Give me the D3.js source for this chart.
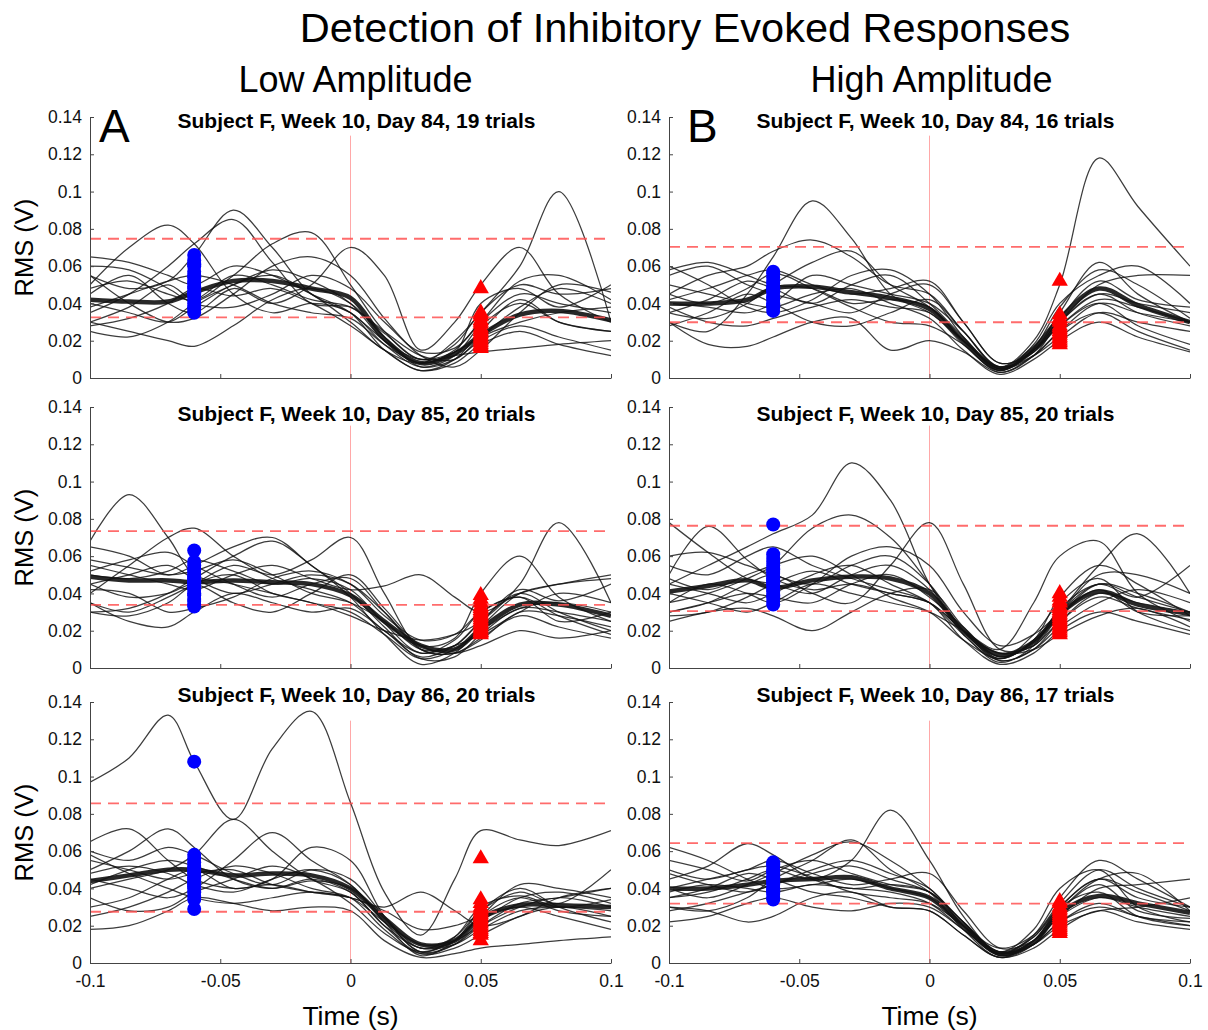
<!DOCTYPE html>
<html>
<head>
<meta charset="utf-8">
<script src="https://cdn.jsdelivr.net/npm/d3@7"></script>
<style>
  body { margin: 0; background: #fff; }
  text { font-family: "Liberation Sans", Arial, Helvetica, sans-serif; }
</style>
</head>
<body>
<svg id="chart" width="1208" height="1030"></svg>
<script>
const times = [-0.1, -0.085, -0.07, -0.06, -0.045, -0.03, -0.015, 0, 0.013, 0.027, 0.04, 0.05, 0.065, 0.08, 0.1];
const xTicks = [-0.1, -0.05, 0, 0.05, 0.1];
const yTicks = [0, 0.02, 0.04, 0.06, 0.08, 0.1, 0.12, 0.14];

// ---- all RMS values below are in mV ----

// Low amplitude, day 84
const meanA84 = [42, 41, 41, 46, 52, 52, 48, 43, 21, 8, 13, 23, 34, 36, 31];
const trialsA84 = [
  [55, 48, 52, 66, 90, 70, 45, 35, 20, 8, 15, 30, 45, 40, 35],
  [35, 45, 60, 72, 85, 62, 40, 38, 25, 12, 10, 22, 38, 48, 40],
  [50, 70, 82, 72, 45, 35, 40, 35, 18, 6, 12, 28, 40, 30, 25],
  [30, 38, 50, 42, 55, 72, 78, 50, 25, 10, 18, 35, 50, 45, 48],
  [45, 55, 40, 35, 48, 40, 50, 70, 55, 15, 30, 50, 70, 45, 30],
  [40, 35, 30, 38, 50, 55, 45, 30, 15, 8, 20, 35, 60, 100, 30],
  [30, 25, 20, 17, 28, 42, 48, 40, 22, 6, 10, 20, 28, 22, 15],
  [65, 62, 55, 50, 60, 55, 45, 35, 15, 4, 8, 18, 25, 18, 12],
  [25, 22, 30, 40, 50, 58, 52, 40, 20, 10, 14, 22, 30, 35, 38],
  [60, 58, 48, 40, 38, 45, 55, 48, 30, 14, 16, 30, 52, 55, 42],
  [38, 45, 52, 55, 50, 40, 35, 32, 18, 8, 12, 14, 16, 18, 20],
  [55, 40, 30, 32, 45, 60, 65, 55, 32, 12, 6, 15, 35, 50, 46],
  [28, 32, 40, 48, 44, 48, 40, 28, 15, 4, 10, 25, 42, 30, 25],
  [48, 52, 45, 42, 55, 50, 42, 38, 24, 10, 14, 40, 48, 38, 50]
];
const blueA84 = [66, 63, 61, 60, 57, 55, 54, 52, 51, 49, 48, 46, 45, 44, 42, 40, 38, 37, 35];
const redA84 = [48, 35, 34, 33, 31, 30, 29, 27, 26, 25, 24, 23, 22, 21, 20, 19, 18, 17, 16];
const threshA84 = [32.5, 74.7];

// High amplitude, day 84
const meanB84 = [40, 40, 42, 48, 49, 46, 43, 37, 20, 5, 16, 32, 48, 39, 30];
const trialsB84 = [
  [30, 25, 45, 65, 95, 75, 45, 35, 20, 5, 15, 30, 45, 40, 35],
  [45, 55, 60, 68, 74, 65, 50, 45, 25, 6, 14, 28, 42, 38, 30],
  [40, 38, 35, 40, 55, 50, 45, 40, 25, 6, 20, 50, 118, 92, 60],
  [35, 32, 40, 50, 62, 68, 50, 38, 20, 5, 12, 25, 40, 35, 30],
  [55, 60, 50, 45, 40, 35, 45, 50, 30, 8, 15, 35, 62, 45, 30],
  [60, 50, 38, 35, 42, 55, 58, 45, 22, 4, 18, 40, 55, 60, 40],
  [30, 18, 17, 22, 30, 32, 15, 20, 14, 3, 12, 25, 35, 25, 15],
  [28, 35, 45, 40, 30, 28, 35, 42, 25, 5, 15, 28, 40, 28, 18],
  [42, 48, 55, 58, 50, 45, 48, 52, 30, 8, 14, 30, 50, 55, 55],
  [50, 45, 40, 38, 45, 48, 40, 32, 15, 2, 10, 20, 30, 22, 14],
  [38, 30, 28, 32, 38, 42, 38, 35, 18, 4, 16, 38, 58, 50, 32],
  [58, 62, 55, 50, 48, 40, 42, 38, 20, 6, 12, 22, 35, 30, 25],
  [45, 40, 48, 56, 48, 38, 30, 28, 18, 3, 12, 30, 45, 35, 28],
  [35, 42, 52, 48, 40, 50, 55, 40, 22, 5, 14, 32, 52, 42, 38]
];
const blueB84 = [57, 56, 54, 52, 51, 49, 48, 47, 46, 44, 43, 42, 40, 39, 38, 36];
const redB84 = [52, 34, 32, 31, 30, 28, 27, 26, 25, 24, 23, 22, 21, 20, 19, 18];
const threshB84 = [29.9, 70.3];

// Low amplitude, day 85
const meanA85 = [49, 47, 47, 46, 47, 46, 45, 39, 25, 12, 10, 21, 34, 34, 28];
const trialsA85 = [
  [68, 93, 70, 50, 45, 40, 35, 30, 18, 5, 10, 20, 32, 35, 30],
  [40, 55, 70, 75, 60, 48, 42, 35, 20, 8, 12, 18, 30, 40, 35],
  [35, 30, 38, 45, 55, 50, 58, 70, 40, 10, 8, 15, 30, 28, 22],
  [30, 28, 35, 45, 50, 40, 35, 28, 20, 15, 18, 25, 45, 78, 35],
  [45, 50, 55, 48, 40, 45, 50, 45, 30, 12, 16, 40, 60, 38, 25],
  [55, 50, 45, 42, 50, 55, 48, 42, 44, 50, 38, 30, 40, 45, 50],
  [65, 60, 50, 55, 65, 70, 55, 40, 22, 5, 6, 18, 32, 30, 25],
  [30, 32, 40, 48, 60, 68, 55, 38, 18, 2, 8, 22, 40, 45, 48],
  [35, 25, 22, 30, 40, 35, 30, 32, 20, 6, 12, 25, 40, 30, 20],
  [52, 58, 62, 55, 45, 38, 45, 48, 30, 10, 8, 16, 28, 22, 16],
  [42, 40, 30, 32, 38, 48, 52, 45, 28, 15, 18, 30, 38, 28, 18],
  [58, 54, 50, 52, 58, 50, 40, 35, 25, 10, 12, 25, 42, 36, 45],
  [45, 38, 40, 45, 35, 30, 40, 50, 32, 12, 8, 12, 20, 16, 20],
  [50, 48, 52, 58, 52, 45, 48, 42, 24, 8, 15, 30, 38, 25, 30]
];
const blueA85 = [63, 57, 55, 53, 52, 50, 49, 48, 47, 46, 45, 44, 43, 42, 40, 39, 37, 36, 34, 33];
const redA85 = [39, 37, 35, 33, 32, 31, 30, 29, 28, 27, 26, 25, 24, 23, 22, 21, 20, 19, 19, 18];
const threshA85 = [33.9, 73.4];

// High amplitude, day 85
const meanB85 = [41, 44, 47, 43, 47, 49, 48, 40, 20, 7, 14, 29, 41, 34, 29];
const trialsB85 = [
  [45, 55, 65, 72, 82, 110, 90, 45, 20, 5, 15, 30, 45, 38, 30],
  [35, 40, 48, 55, 75, 82, 70, 45, 20, 8, 12, 25, 38, 32, 26],
  [30, 35, 45, 50, 40, 35, 55, 78, 45, 10, 12, 28, 45, 40, 30],
  [78, 62, 48, 45, 40, 50, 55, 42, 18, 4, 10, 25, 40, 35, 30],
  [50, 76, 58, 48, 42, 45, 40, 35, 20, 6, 14, 28, 42, 30, 28],
  [40, 35, 30, 35, 45, 40, 35, 30, 20, 10, 35, 60, 68, 40, 25],
  [30, 35, 40, 38, 35, 45, 50, 38, 22, 6, 14, 30, 55, 72, 40],
  [45, 40, 35, 40, 50, 55, 45, 35, 18, 3, 12, 32, 45, 38, 55],
  [25, 30, 32, 28, 20, 30, 40, 42, 22, 5, 18, 35, 48, 30, 20],
  [60, 62, 55, 50, 45, 55, 60, 45, 20, 4, 10, 22, 35, 42, 35],
  [55, 50, 60, 65, 55, 48, 42, 35, 15, 2, 8, 20, 30, 25, 18],
  [35, 45, 40, 35, 45, 60, 65, 55, 30, 12, 18, 30, 50, 50, 40],
  [48, 42, 50, 55, 60, 50, 38, 30, 15, 5, 15, 38, 55, 45, 28],
  [28, 30, 38, 45, 52, 45, 40, 35, 20, 8, 10, 18, 28, 32, 22]
];
const blueB85 = [77, 61, 59, 57, 55, 53, 52, 51, 49, 48, 47, 46, 45, 44, 42, 41, 39, 38, 36, 34];
const redB85 = [40, 38, 36, 35, 33, 32, 31, 30, 29, 28, 27, 26, 25, 24, 23, 22, 21, 20, 19, 18];
const threshB85 = [30.5, 76.3];

// Low amplitude, day 86
const meanA86 = [44, 47, 50, 50, 47, 48, 47, 40, 24, 10, 12, 24, 31, 31, 30];
const trialsA86 = [
  [97, 110, 133, 108, 77, 115, 135, 86, 38, 15, 45, 71, 66, 63, 71],
  [40, 45, 50, 58, 77, 60, 45, 38, 20, 8, 10, 18, 28, 30, 28],
  [65, 72, 55, 45, 40, 42, 38, 35, 22, 10, 12, 20, 30, 35, 30],
  [50, 60, 72, 62, 45, 40, 45, 38, 20, 5, 8, 15, 25, 30, 25],
  [30, 35, 45, 50, 40, 45, 62, 55, 25, 6, 10, 20, 32, 35, 40],
  [45, 40, 35, 40, 55, 70, 55, 42, 22, 8, 12, 25, 35, 28, 25],
  [55, 50, 45, 48, 50, 42, 38, 35, 30, 38, 28, 20, 25, 35, 40],
  [18, 20, 28, 35, 32, 28, 30, 28, 12, 3, 5, 8, 10, 12, 14],
  [60, 55, 62, 58, 48, 42, 50, 45, 25, 8, 14, 28, 38, 32, 50],
  [25, 30, 38, 45, 52, 48, 40, 35, 18, 5, 10, 22, 35, 38, 32],
  [48, 52, 48, 42, 38, 45, 50, 42, 22, 4, 12, 28, 40, 30, 22],
  [35, 28, 30, 38, 45, 52, 45, 32, 16, 6, 12, 25, 42, 40, 35],
  [58, 48, 40, 35, 32, 35, 38, 35, 28, 18, 20, 25, 30, 25, 18],
  [42, 50, 55, 52, 45, 40, 44, 40, 24, 6, 14, 30, 36, 30, 34]
];
const blueA86 = [108, 58, 56, 54, 52, 51, 50, 49, 48, 46, 45, 44, 43, 42, 41, 40, 38, 36, 34, 29];
const redA86 = [56, 34, 32, 30, 29, 28, 27, 26, 25, 24, 23, 22, 21, 20, 19, 18, 17, 16, 15, 12];
const threshA86 = [27.5, 85.6];

// High amplitude, day 86
const meanB86 = [40, 40, 42, 44, 45, 46, 40, 35, 20, 5, 11, 27, 36, 32, 27];
const trialsB86 = [
  [35, 38, 45, 50, 45, 55, 82, 55, 25, 5, 12, 25, 35, 30, 25],
  [45, 52, 64, 58, 45, 40, 42, 38, 20, 6, 14, 30, 45, 38, 28],
  [40, 35, 42, 48, 58, 65, 55, 40, 22, 4, 10, 22, 32, 25, 22],
  [30, 28, 35, 45, 55, 66, 50, 38, 18, 3, 12, 30, 45, 35, 30],
  [62, 55, 45, 40, 42, 45, 40, 35, 20, 8, 15, 32, 50, 40, 30],
  [38, 42, 40, 38, 42, 40, 38, 32, 18, 5, 15, 35, 55, 45, 30],
  [55, 50, 44, 50, 55, 48, 42, 38, 22, 6, 18, 40, 50, 30, 22],
  [22, 25, 32, 35, 30, 28, 32, 30, 18, 5, 10, 22, 30, 25, 20],
  [30, 28, 22, 25, 35, 38, 30, 28, 15, 3, 8, 18, 28, 22, 18],
  [40, 45, 50, 55, 48, 42, 45, 48, 28, 8, 12, 25, 40, 42, 45],
  [48, 42, 38, 42, 48, 52, 45, 38, 22, 6, 10, 20, 28, 30, 35],
  [35, 40, 48, 45, 38, 35, 30, 28, 15, 3, 10, 28, 45, 48, 28],
  [50, 45, 50, 52, 46, 38, 35, 32, 20, 5, 14, 30, 38, 25, 20],
  [28, 32, 38, 42, 50, 55, 48, 40, 20, 4, 12, 28, 42, 28, 24]
];
const blueB86 = [54, 53, 52, 50, 49, 48, 46, 45, 44, 43, 42, 40, 39, 38, 37, 35, 34];
const redB86 = [33, 32, 30, 29, 28, 27, 26, 25, 24, 23, 22, 21, 20, 19, 18, 17, 16];
const threshB86 = [31.9, 64.3];

const subtitles = [
  "Subject F, Week 10, Day 84, 19 trials",
  "Subject F, Week 10, Day 84, 16 trials",
  "Subject F, Week 10, Day 85, 20 trials",
  "Subject F, Week 10, Day 85, 20 trials",
  "Subject F, Week 10, Day 86, 20 trials",
  "Subject F, Week 10, Day 86, 17 trials"
];

const panels = [
  { mean: meanA84, trials: trialsA84, blue: blueA84, red: redA84, thresh: threshA84 },
  { mean: meanB84, trials: trialsB84, blue: blueB84, red: redB84, thresh: threshB84 },
  { mean: meanA85, trials: trialsA85, blue: blueA85, red: redA85, thresh: threshA85 },
  { mean: meanB85, trials: trialsB85, blue: blueB85, red: redB85, thresh: threshB85 },
  { mean: meanA86, trials: trialsA86, blue: blueA86, red: redA86, thresh: threshA86 },
  { mean: meanB86, trials: trialsB86, blue: blueB86, red: redB86, thresh: threshB86 }
];

// layout
const svg = d3.select("#chart");
const W = 521, H = 261;
const colX = [90, 669];
const rowY = [117, 407, 702];
const subY = [11, 14, 0];      // subtitle baseline relative to plot top
const blueT = -0.06, redT = 0.05;

const fmt = d => String(+d.toFixed(2));

const x = d3.scaleLinear().domain([-0.1, 0.1]).range([0, W]);
const y = d3.scaleLinear().domain([0, 0.14]).range([H, 0]);
const line = d3.line()
  .x((d, j) => x(times[j]))
  .y(d => y(d / 1000))
  .curve(d3.curveCatmullRom.alpha(0.5));

svg.append("defs").append("clipPath").attr("id", "plotclip")
  .append("rect").attr("x", 0).attr("y", -2).attr("width", W).attr("height", H + 2);

panels.forEach((p, i) => {
  const col = i % 2, row = Math.floor(i / 2);
  const g = svg.append("g").attr("transform", `translate(${colX[col]},${rowY[row]})`);

  // stimulus onset
  g.append("line")
    .attr("x1", x(0)).attr("x2", x(0))
    .attr("y1", y(0.13)).attr("y2", y(0))
    .attr("stroke", "#ffa8a8").attr("stroke-width", 1);

  const plot = g.append("g").attr("clip-path", "url(#plotclip)");

  plot.selectAll("path.trial")
    .data(p.trials)
    .join("path")
    .attr("class", "trial")
    .attr("d", line)
    .attr("fill", "none")
    .attr("stroke", "#111")
    .attr("stroke-opacity", 0.82)
    .attr("stroke-width", 1.25);

  plot.append("path")
    .datum(p.mean)
    .attr("d", line)
    .attr("fill", "none")
    .attr("stroke", "#111")
    .attr("stroke-opacity", 0.9)
    .attr("stroke-width", 4.5);

  // detection thresholds
  g.selectAll("line.thr")
    .data(p.thresh)
    .join("line")
    .attr("class", "thr")
    .attr("x1", 0).attr("x2", W)
    .attr("y1", d => y(d / 1000)).attr("y2", d => y(d / 1000))
    .attr("stroke", "#ff5252")
    .attr("stroke-opacity", 0.85)
    .attr("stroke-width", 1.8)
    .attr("stroke-dasharray", "11,7");

  g.selectAll("circle.pre")
    .data(p.blue)
    .join("circle")
    .attr("class", "pre")
    .attr("cx", x(blueT))
    .attr("cy", d => y(d / 1000))
    .attr("r", 7)
    .attr("fill", "#0000ff");

  g.selectAll("path.post")
    .data(p.red)
    .join("path")
    .attr("class", "post")
    .attr("transform", d => `translate(${x(redT)},${y(d / 1000)})`)
    .attr("d", d3.symbol(d3.symbolTriangle, 115))
    .attr("fill", "#ff0000");

  // axes
  const ya = g.append("g")
    .call(d3.axisLeft(y).tickValues(yTicks).tickSize(-4).tickSizeOuter(0).tickPadding(8).tickFormat(fmt));
  const xa = g.append("g")
    .attr("transform", `translate(0,${H})`)
    .call(d3.axisBottom(x).tickValues(xTicks).tickSize(-4).tickSizeOuter(0).tickPadding(12)
      .tickFormat(row === 2 ? fmt : ""));
  [ya, xa].forEach(a => {
    a.select(".domain").attr("stroke", "#444");
    a.selectAll(".tick line").attr("stroke", "#444");
    a.selectAll("text").attr("fill", "#111").style("font-size", "17.5px");
  });

  g.append("text")
    .attr("x", W / 2 + 6)
    .attr("y", subY[row])
    .attr("text-anchor", "middle")
    .style("font-size", "21px")
    .style("font-weight", "bold")
    .text(subtitles[i]);

  if (col === 0) {
    g.append("text")
      .attr("transform", `translate(${24 - colX[0]},${H / 2}) rotate(-90)`)
      .attr("text-anchor", "middle")
      .attr("dy", "0.35em")
      .style("font-size", "25.5px")
      .text("RMS (V)");
  }
  if (row === 2) {
    g.append("text")
      .attr("x", x(0))
      .attr("y", H + 62)
      .attr("text-anchor", "middle")
      .style("font-size", "26.5px")
      .text("Time (s)");
  }
});

svg.append("text")
  .attr("x", 685).attr("y", 42)
  .attr("text-anchor", "middle")
  .style("font-size", "41.5px")
  .text("Detection of Inhibitory Evoked Responses");

svg.append("text")
  .attr("x", colX[0] + x(0) + 5).attr("y", 92)
  .attr("text-anchor", "middle")
  .style("font-size", "36px")
  .text("Low Amplitude");

svg.append("text")
  .attr("x", colX[1] + x(0) + 2).attr("y", 92)
  .attr("text-anchor", "middle")
  .style("font-size", "36px")
  .text("High Amplitude");

svg.append("text")
  .attr("x", 99).attr("y", 142)
  .style("font-size", "46px")
  .text("A");

svg.append("text")
  .attr("x", 687).attr("y", 142)
  .style("font-size", "46px")
  .text("B");
</script>
</body>
</html>
